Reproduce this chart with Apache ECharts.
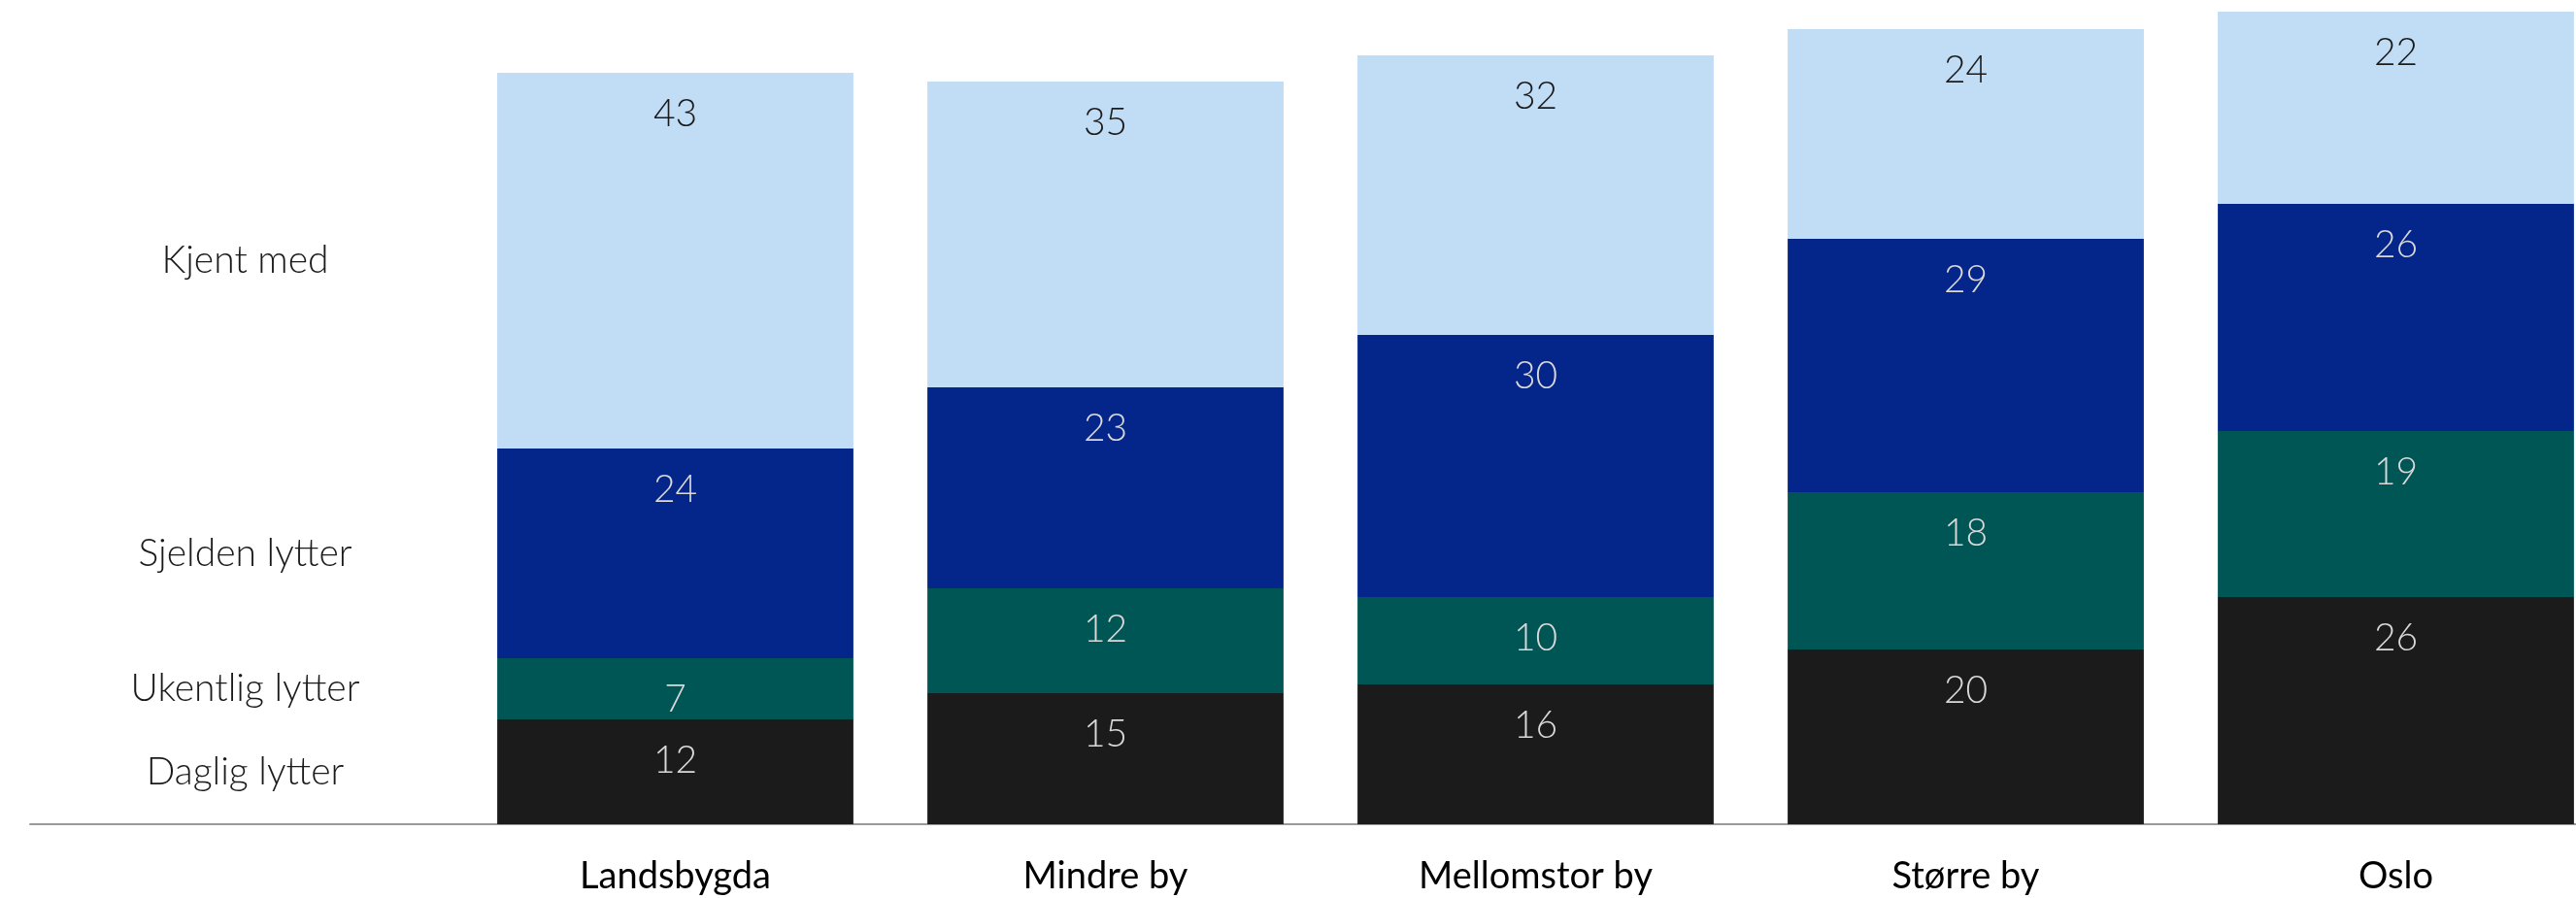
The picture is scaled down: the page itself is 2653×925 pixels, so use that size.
<!DOCTYPE html>
<html>
<head>
<meta charset="utf-8">
<script src="https://cdn.jsdelivr.net/npm/echarts@6/dist/echarts.min.js"></script>
<style>
  html, body { margin: 0; padding: 0; background: #ffffff; overflow: hidden; }
  /* the drawing is a little wider than the window, so the last column is cut at the edge */
  #chart { width: 2689px; height: 925px; }
</style>
</head>
<body>
<div id="chart"></div>
<script>
// Place categories (the first axis slot is kept free for the row captions)
const places = ['Landsbygda', 'Mindre by', 'Mellomstor by', 'Større by', 'Oslo'];

// Listener groups, bottom to top
const groupNames = ['Daglig lytter', 'Ukentlig lytter', 'Sjelden lytter', 'Kjent med'];

// Shares (%) per place
const daglig   = [12, 15, 16, 20, 26];
const ukentlig = [7, 12, 10, 18, 19];
const sjelden  = [24, 23, 30, 29, 26];
const kjent    = [43, 35, 32, 24, 22];

const groupValues = [daglig, ukentlig, sjelden, kjent];
const groupColors = ['#1b1b1b', '#005555', '#04268a', '#c1dcf5'];
const labelColors = ['#d9d9d9', '#d9d9d9', '#d9d9d9', '#1a1a1a'];

const numberFont = 'Lato, "Open Sans", sans-serif';

const series = groupValues.map((vals, i) => ({
  name: groupNames[i],
  type: 'bar',
  stack: 'total',
  barCategoryGap: '17.2%',
  itemStyle: { color: groupColors[i] },
  label: {
    show: true,
    position: 'insideTop',
    distance: 23,
    color: labelColors[i],
    fontFamily: numberFont,
    fontWeight: 300,
    fontSize: 39
  },
  emphasis: { disabled: true },
  data: [
    // caption column: invisible segment sized like the first place, showing the group name
    {
      value: vals[0],
      itemStyle: { color: 'rgba(0,0,0,0)' },
      label: {
        position: 'inside',
        distance: 0,
        color: '#1a1a1a',
        fontSize: 39,
        fontWeight: 300,
        formatter: groupNames[i]
      }
    }
  ].concat(vals)
}));

const chart = echarts.init(document.getElementById('chart'), null, { renderer: 'canvas' });
chart.setOption({
  animation: false,
  backgroundColor: '#ffffff',
  grid: { left: 31, right: 0, top: 3, bottom: 76, containLabel: false },
  xAxis: {
    type: 'category',
    data: [''].concat(places),
    axisTick: { show: false },
    axisLine: { show: true, lineStyle: { color: '#9a9a9a', width: 2 } },
    axisLabel: {
      color: '#000000',
      fontFamily: numberFont,
      fontSize: 38,
      margin: 35,
      interval: 0
    }
  },
  yAxis: {
    type: 'value',
    min: 0,
    max: 94,
    show: false,
    splitLine: { show: false }
  },
  series: series
});
</script>
</body>
</html>
